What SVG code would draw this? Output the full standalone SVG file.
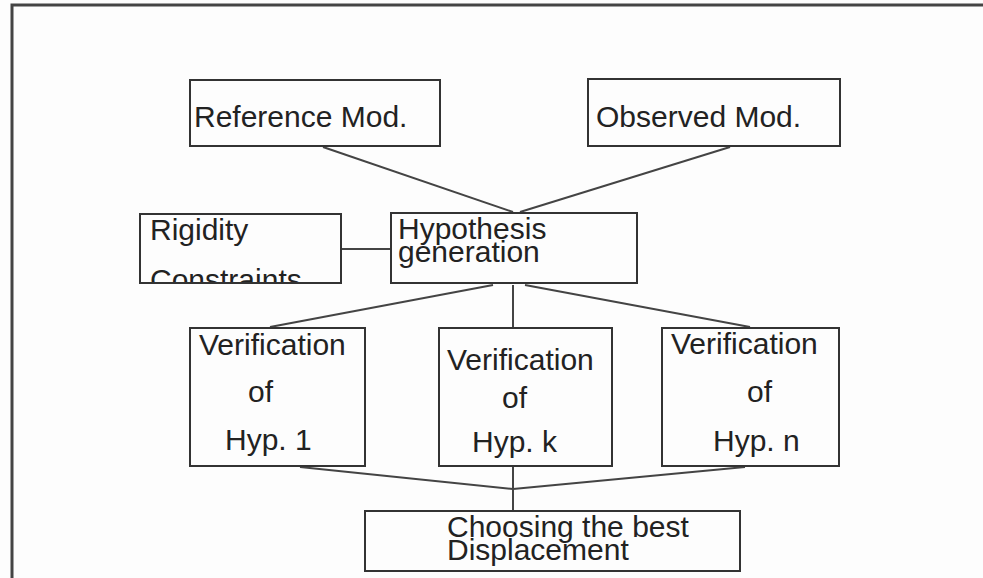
<svg xmlns="http://www.w3.org/2000/svg" width="983" height="578" viewBox="0 0 983 578">
  <style>
    .box { fill: none; stroke: #333; stroke-width: 2; }
    .lbl { font-family: "Liberation Sans", Arial, sans-serif; font-size: 30px; fill: #222; }
    .wire { stroke: #444; stroke-width: 2; fill: none; }
    .frame { stroke: #444; stroke-width: 3; fill: none; }
  </style>
  <defs>
    <clipPath id="rigidClip">
      <rect x="140" y="214" width="201" height="70"/>
    </clipPath>
  </defs>

  <rect x="0" y="0" width="983" height="578" fill="#fdfdfd"/>

  <!-- page frame -->
  <path class="frame" d="M12 578 V5 H983"/>

  <!-- connectors -->
  <g id="connectors">
    <line class="wire" x1="323" y1="147" x2="513" y2="212"/>
    <line class="wire" x1="730" y1="147" x2="520" y2="212"/>
    <line class="wire" x1="341" y1="249" x2="391" y2="249"/>
    <line class="wire" x1="493" y1="285" x2="270" y2="327"/>
    <line class="wire" x1="513" y1="285" x2="513" y2="327"/>
    <line class="wire" x1="525" y1="285" x2="750" y2="327"/>
    <line class="wire" x1="300" y1="467" x2="513" y2="489"/>
    <line class="wire" x1="745" y1="467" x2="513" y2="489"/>
    <line class="wire" x1="513" y1="467" x2="513" y2="511"/>
  </g>

  <g id="reference-mod">
    <rect class="box" x="190" y="80" width="250" height="66"/>
    <text class="lbl" x="194" y="127">Reference Mod.</text>
  </g>

  <g id="observed-mod">
    <rect class="box" x="588" y="79" width="252" height="67"/>
    <text class="lbl" x="596" y="127">Observed Mod.</text>
  </g>

  <g id="rigidity-constraints">
    <g clip-path="url(#rigidClip)">
      <text class="lbl" x="150" y="240">Rigidity</text>
      <text class="lbl" x="150" y="290">Constraints</text>
    </g>
    <rect class="box" x="140" y="214" width="201" height="69"/>
  </g>

  <g id="hypothesis-generation">
    <rect class="box" x="391" y="213" width="246" height="70"/>
    <text class="lbl" x="398" y="239">Hypothesis</text>
    <text class="lbl" x="398" y="262">generation</text>
  </g>

  <g id="verification-1">
    <rect class="box" x="190" y="328" width="175" height="138"/>
    <text class="lbl" x="199" y="355">Verification</text>
    <text class="lbl" x="248" y="402">of</text>
    <text class="lbl" x="225" y="450">Hyp. 1</text>
  </g>

  <g id="verification-k">
    <rect class="box" x="439" y="328" width="173" height="138"/>
    <text class="lbl" x="447" y="370">Verification</text>
    <text class="lbl" x="502" y="408">of</text>
    <text class="lbl" x="472" y="452">Hyp. k</text>
  </g>

  <g id="verification-n">
    <rect class="box" x="662" y="328" width="177" height="138"/>
    <text class="lbl" x="671" y="354">Verification</text>
    <text class="lbl" x="747" y="402">of</text>
    <text class="lbl" x="713" y="451">Hyp. n</text>
  </g>

  <g id="choosing-best">
    <rect class="box" x="365" y="511" width="375" height="60"/>
    <text class="lbl" x="447" y="537">Choosing the best</text>
    <text class="lbl" x="447" y="560">Displacement</text>
  </g>
</svg>
